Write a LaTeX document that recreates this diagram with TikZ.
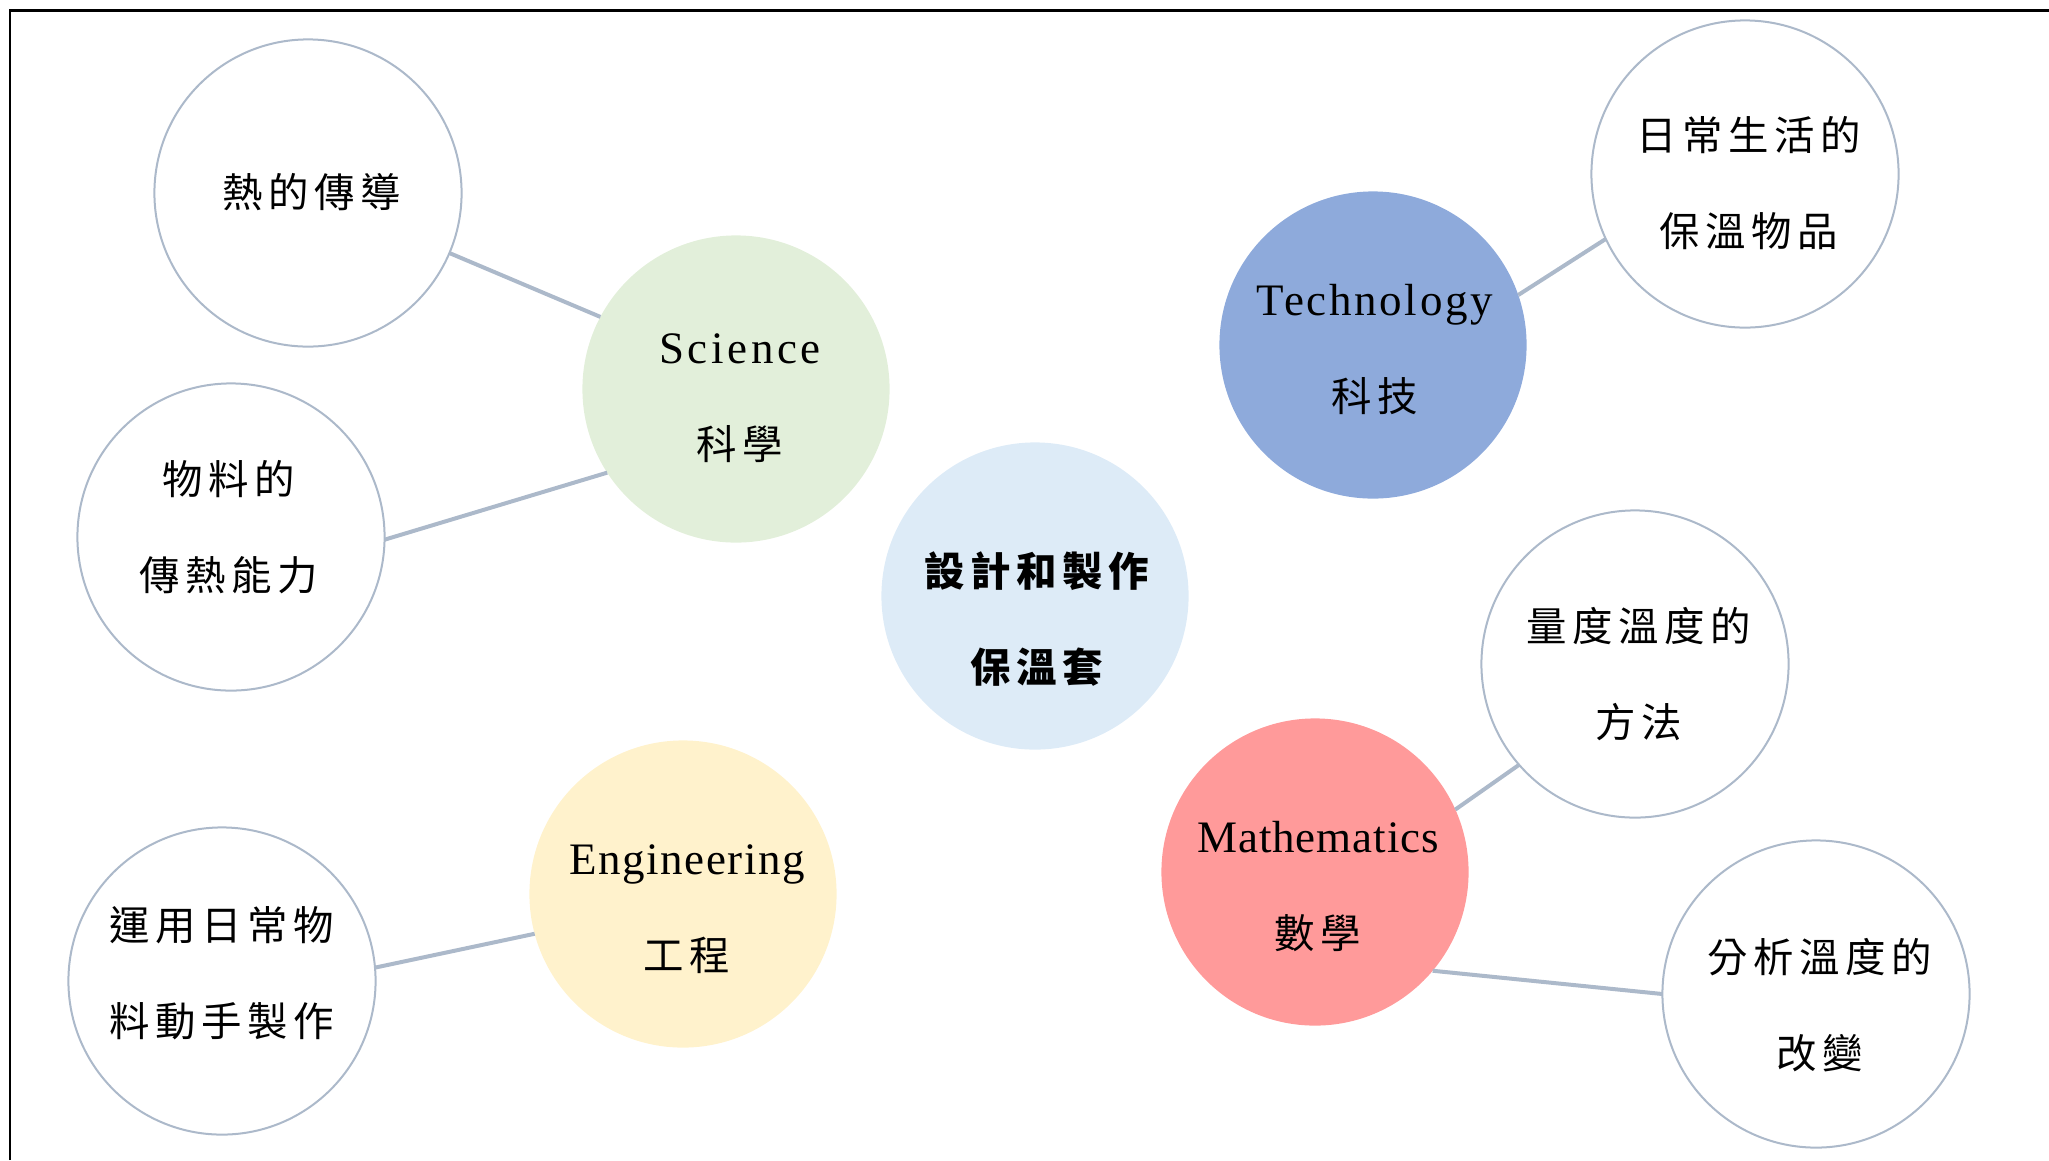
\documentclass[tikz,border=0pt]{standalone}
\usepackage{fontspec}
\setmainfont{Liberation Serif}
\newfontfamily\cjk[LetterSpace=14]{Noto Sans CJK TC}
\newfontfamily\latfont{Liberation Serif}
\newcommand{\lat}[2]{{\latfont\addfontfeature{LetterSpace=#1}\fontsize{12.8pt}{27.3pt}\selectfont #2}}
\definecolor{outl}{HTML}{ACB9CA}
\definecolor{scifill}{HTML}{E2EFDA}
\definecolor{cenfill}{HTML}{DDEBF7}
\definecolor{techfill}{HTML}{8EAADB}
\definecolor{mathfill}{HTML}{FF9A9A}
\definecolor{engfill}{HTML}{FFF2CC}
\begin{document}
\begin{tikzpicture}[x=0.01cm,y=-0.01cm,
  bub/.style={circle,minimum size=3.07cm,inner sep=0pt,outer sep=0pt},
  sub/.style={bub,draw=outl,line width=0.02cm,fill=white},
  txt/.style={align=center,inner sep=0pt,font=\cjk\fontsize{11.5pt}{27.3pt}\selectfont},
  link/.style={draw=outl,line width=0.04cm}]
\useasboundingbox (0,0) rectangle (2049,1160);
\draw[line width=0.025cm] (10,1160) -- (10,10.5) -- (2049,10.5);

% circles
\node[sub] (A) at (308,193) {};
\node[bub,fill=scifill] (S) at (736,389) {};
\node[sub] (B) at (231,537) {};
\node[bub,fill=cenfill] (C) at (1035,596) {};
\node[bub,fill=techfill] (T) at (1373,345) {};
\node[sub] (D) at (1745,174) {};
\node[sub] (E) at (1635,664) {};
\node[bub,fill=mathfill] (M) at (1315,872) {};
\node[sub] (F) at (1816,994) {};
\node[bub,fill=engfill] (G) at (683,894) {};
\node[sub] (H) at (222,981) {};

% texts
\node[txt] (tA) at (312,192) {熱的傳導};
\node[txt] (tS) at (740,398) {\lat{8}{Science}\\科學};
\node[txt] (tB) at (229,527) {物料的\\傳熱能力};
\node[txt,font=\cjk\bfseries\fontsize{11.5pt}{27.3pt}\selectfont] (tC) at (1037,619) {設計和製作\\保溫套};
\node[txt] (tT) at (1375,350) {\lat{6}{Technology}\\科技};
\node[txt] (tD) at (1749,183) {日常生活的\\保溫物品};
\node[txt] (tE) at (1639,674) {量度溫度的\\方法};
\node[txt] (tM) at (1318,886) {\lat{2}{Mathematics}\\數學};
\node[txt] (tF) at (1820,1005) {分析溫度的\\改變};
\node[txt] (tG) at (687,909) {\lat{3.5}{Engineering}\\工程};
\node[txt] (tH) at (222,973) {運用日常物\\料動手製作};

% connectors
\draw[link] (A.-23.2) -- (S.152.3);
\draw[link] (B.-1.4) -- (S.-147.7);
\draw[link] (T.19.9) -- (D.-155.6);
\draw[link] (M.24.7) -- (E.-139.2);
\draw[link] (M.-40.3) -- (F.180);
\draw[link] (G.-165.7) -- (H.5.3);
\end{tikzpicture}
\end{document}
